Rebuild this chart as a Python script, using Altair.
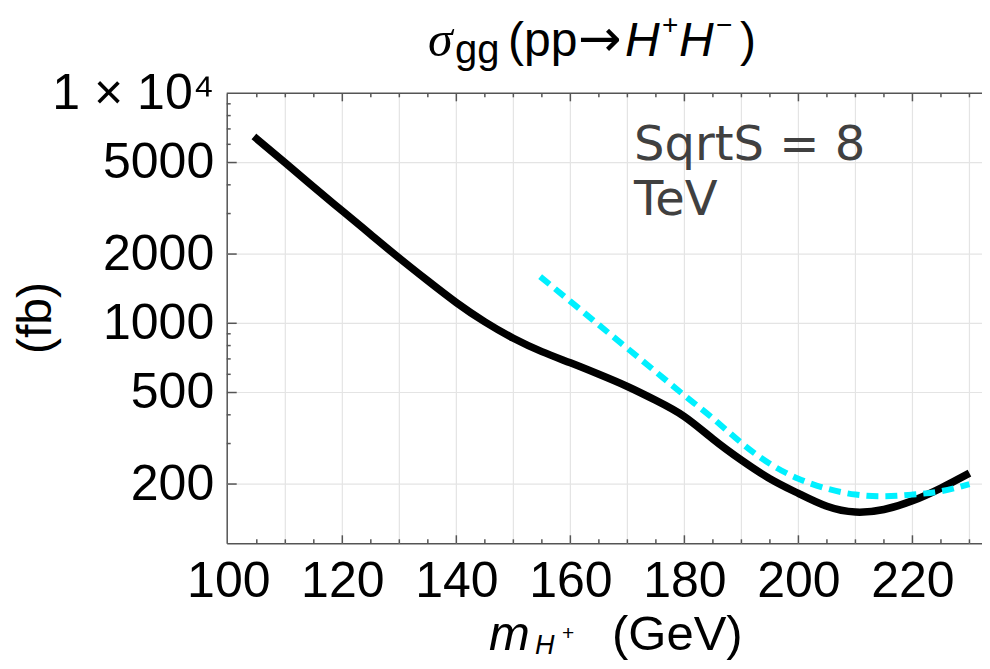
import altair as alt
import pandas as pd

# ---------------- data ----------------
black_x = [104.5, 110, 115, 120, 125, 130, 135, 140, 145, 150, 155, 160, 165, 170,
           175, 180, 185, 190, 195, 200, 205, 210, 215, 220, 225, 230]
black_y = [6490, 4980, 3910, 3080, 2430, 1920, 1530, 1230, 1014, 861, 753, 673, 600, 531,
           462, 393, 314, 254, 211, 182, 160, 151, 155, 169, 192, 223]

cyan_x = [154.7, 160, 165, 170, 175, 180, 185, 190, 195, 200, 205, 210, 215, 220, 225, 230]
cyan_y = [1596, 1245, 984, 778, 615, 486, 386, 302, 245, 211, 191, 180, 177, 180, 186, 200]

x_label_vals = [100, 120, 140, 160, 180, 200, 220]
y_label_vals = [200, 500, 1000, 2000, 5000, 10000]
x_grid_vals = [110, 120, 130, 140, 150, 160, 170, 180, 190, 200, 210, 220, 230]
y_grid_vals = [200, 500, 1000, 2000, 5000]
x_major_ticks = [120, 140, 160, 180, 200, 220]
x_minor_ticks = [105, 110, 115, 125, 130, 135, 145, 150, 155, 165, 170, 175, 185, 190,
                 195, 205, 210, 215, 225, 230]
y_major_ticks = [200, 500, 1000, 2000, 5000]
y_minor_ticks = [300, 400, 600, 700, 800, 900, 3000, 4000, 6000, 7000, 8000, 9000]

# ---------------- layout ----------------
W, H = 755.3, 450
PL, PT = 218.7, 85.3          # plot origin on page = (226.7, 93.3)
OX, OY = PL + 8, PT + 8
FRAME = "#555555"
GRID = "#e4e4e4"

xs = alt.Scale(domain=[99.72, 232.2], nice=False, zero=False)
ys = alt.Scale(type="log", domain=[110.5, 10000], nice=False)

x_axis = alt.Axis(values=x_label_vals, title=None, grid=False, ticks=False,
                  domain=True, domainColor=FRAME, domainWidth=1.5,
                  labelFont="Liberation Sans", labelFontSize=50, labelColor="black",
                  labelPadding=13, labelFlush=False, labelOverlap=False)
y_axis = alt.Axis(values=y_label_vals, title=None, grid=False, ticks=False,
                  domain=True, domainColor=FRAME, domainWidth=1.5,
                  labelFont="Liberation Sans", labelFontSize=50, labelColor="black",
                  labelPadding=13, labelFlush=False, labelOverlap=False,
                  labelExpr="datum.value >= 10000 ? '1 \u00d7 10\u2074' : format(datum.value, 'd')")

X = lambda: alt.X("x:Q", scale=xs, axis=x_axis)
Y = lambda: alt.Y("y:Q", scale=ys, axis=y_axis)

df_black = pd.DataFrame({"x": black_x, "y": black_y})
df_cyan = pd.DataFrame({"x": cyan_x, "y": cyan_y})

black = alt.Chart(df_black).mark_line(color="black", strokeWidth=7.5, interpolate="natural",
                                      strokeCap="butt").encode(x=X(), y=Y())

cyan = alt.Chart(df_cyan).mark_line(color="#00f0ff", strokeWidth=6, interpolate="natural",
                                    strokeDash=[12, 7]).encode(x=X(), y=Y())

grid_x = alt.Chart(pd.DataFrame({"x": x_grid_vals})).mark_rule(color=GRID, strokeWidth=1.2).encode(
    x=X(), y=alt.value(0), y2=alt.value(H))
grid_y = alt.Chart(pd.DataFrame({"y": y_grid_vals})).mark_rule(color=GRID, strokeWidth=1.2).encode(
    y=Y(), x=alt.value(0), x2=alt.value(W))


def xticks(vals, y0, y1):
    return alt.Chart(pd.DataFrame({"x": vals})).mark_rule(color=FRAME, strokeWidth=1.5).encode(
        x=X(), y=alt.value(y0), y2=alt.value(y1))


def yticks(vals, x0, x1):
    return alt.Chart(pd.DataFrame({"y": vals})).mark_rule(color=FRAME, strokeWidth=1.5).encode(
        y=Y(), x=alt.value(x0), x2=alt.value(x1))


top_line = alt.Chart(pd.DataFrame({"a": [0]})).mark_rule(color=FRAME, strokeWidth=1.5).encode(
    x=alt.value(0), x2=alt.value(W), y=alt.value(0))


def txt(s, ax, ay, size, font="Liberation Sans", style="normal", color="black",
        align="left", baseline="alphabetic", angle=0):
    return alt.Chart(pd.DataFrame({"t": [s]})).mark_text(
        font=font, fontSize=size, fontStyle=style, color=color, align=align,
        baseline=baseline, angle=angle).encode(
        text="t:N", x=alt.value(ax - OX), y=alt.value(ay - OY))


texts = [
    # title  sigma_gg(pp -> H+ H-)
    txt("\u03c3", 428, 56, 50, font="Liberation Serif", style="italic"),
    txt("gg", 455, 63, 40),
    txt("(pp", 508, 56, 48),
    txt("\u2192", 578, 56, 52, font="DejaVu Sans"),
    txt("H", 625, 56, 48, style="italic"),
    txt("+", 662, 34, 28),
    txt("H", 679, 56, 48, style="italic"),
    txt("\u2212", 716, 34, 28),
    txt(")", 740, 56, 48),
    # y title
    txt("(fb)", 37, 318, 48, align="center", baseline="middle", angle=270),
    # x title  m_{H+}  (GeV)
    txt("m", 489, 650, 49, style="italic"),
    txt("H", 535, 654, 27, style="italic"),
    txt("+", 562, 640, 21),
    txt("(GeV)", 612, 650, 49),
    # annotation
    txt("SqrtS = 8", 634, 160, 48, font="DejaVu Sans", color="#404040"),
    txt("TeV", 634, 215, 48, font="DejaVu Sans", color="#404040"),
]

layers = [grid_x, grid_y, black, cyan,
          xticks(x_major_ticks, H, H - 8), xticks(x_minor_ticks, H, H - 4),
          xticks(x_major_ticks, 0, 8), xticks(x_minor_ticks, 0, 4),
          yticks(y_major_ticks, 0, 10), yticks(y_minor_ticks, 0, 4),
          top_line] + texts

chart = alt.layer(*layers).properties(
    width=W, height=H,
    autosize=alt.AutoSizeParams(type="none"),
    padding={"left": PL, "top": PT, "right": 0, "bottom": 653 - PT - H},
).configure_view(stroke=None)

chart.save("out.html", embed_options={"renderer": "svg", "actions": False})
